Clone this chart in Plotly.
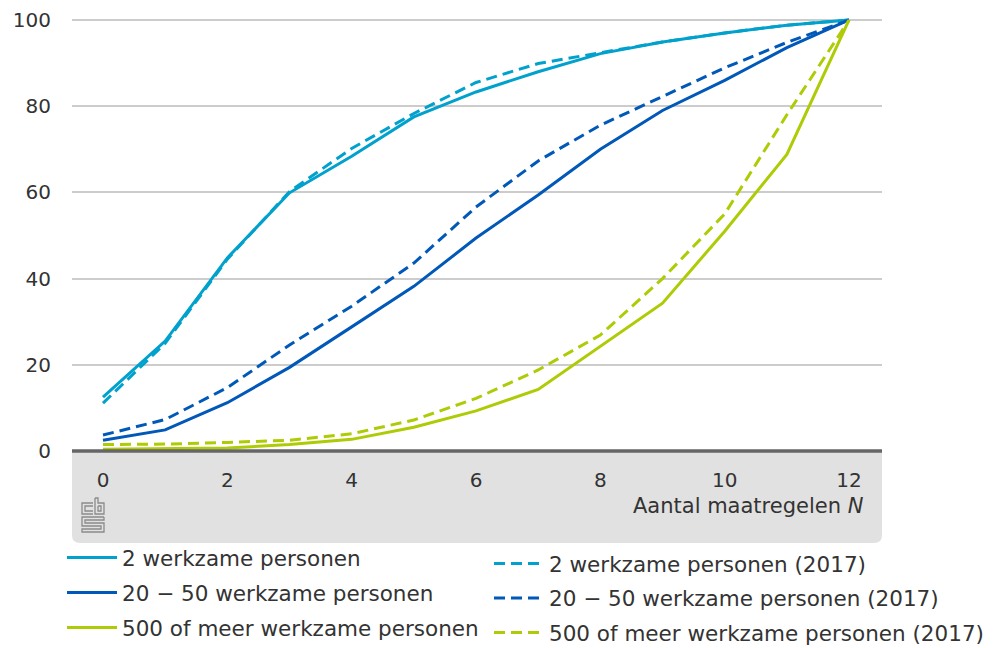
import plotly.graph_objects as go

N = list(range(13))

twee = [12.5, 25.5, 44.8, 59.9, 68.4, 77.5, 83.3, 88.0, 92.2, 94.9, 97.0, 98.8, 100]
twintig = [2.5, 4.9, 11.2, 19.4, 28.8, 38.2, 49.4, 59.4, 70.0, 79.0, 86.0, 93.6, 100]
vijfhonderd = [0.4, 0.5, 0.7, 1.5, 2.7, 5.5, 9.3, 14.3, 24.2, 34.3, 51.0, 68.8, 100]

twee_2017 = [11.1, 25.0, 44.5, 60.2, 70.2, 78.3, 85.5, 89.9, 92.4, 94.9, 97.0, 98.8, 100]
twintig_2017 = [3.7, 7.3, 14.7, 24.6, 33.6, 43.6, 56.6, 67.3, 75.6, 82.3, 88.9, 94.8, 100]
vijfhonderd_2017 = [1.5, 1.6, 2.0, 2.5, 4.0, 7.2, 12.2, 18.8, 26.9, 40.0, 55.0, 78.0, 100]

names = ["2 werkzame personen", "20 \u2212 50 werkzame personen", "500 of meer werkzame personen"]
names_2017 = [n + " (2017)" for n in names]
colors = ["#00a1cd", "#0058b8", "#afcb05"]

FONT = "DejaVu Sans"
TXT = "#333333"

fig = go.Figure()
for i, (vals, nm) in enumerate(zip([twee, twintig, vijfhonderd], names)):
    fig.add_trace(go.Scatter(x=N, y=vals, mode="lines", name=nm,
                             line=dict(color=colors[i], width=3),
                             legend="legend", legendgroup="a%d" % i))
for i, (vals, nm) in enumerate(zip([twee_2017, twintig_2017, vijfhonderd_2017], names_2017)):
    fig.add_trace(go.Scatter(x=N, y=vals, mode="lines", name=nm,
                             line=dict(color=colors[i], width=3, dash="11px,6px"),
                             legend="legend2", legendgroup="b%d" % i))

# page offset caused by the default body margin of the html page
OFF = 8
W, H = 994 - OFF, 648 - OFF
# plot area in page pixels
L, R, T, B = 72, 882, 18, 451

def px(x):
    return (x - L) / (R - L)
def py(y):
    return (B - y) / (B - T)

shapes = []
# grey band under the axis with rounded bottom corners
x0, x1, y0, y1 = px(72), px(882), py(543), py(451)
rx = 8 / (R - L)
ry = 8 / (B - T)
band = (f"M {x0},{y1} L {x1},{y1} L {x1},{y0+ry} Q {x1},{y0} {x1-rx},{y0} "
        f"L {x0+rx},{y0} Q {x0},{y0} {x0},{y0+ry} Z")
shapes.append(dict(type="path", xref="paper", yref="paper", path=band,
                   fillcolor="#e1e1e1", line=dict(width=0), layer="below"))
# zero axis line
shapes.append(dict(type="line", xref="paper", yref="paper", x0=0, x1=1, y0=0, y1=0,
                   line=dict(color="#666666", width=3.5)))

# CBS logo (simplified outline)
def P(pts):
    return "M " + " L ".join(f"{px(a)},{py(b)}" for a, b in pts)
logo_col = "#8a8a8a"
logo_paths = [
    [(93, 503), (82, 503), (82, 514), (93, 514)],
    [(93, 506), (85, 506), (85, 511), (93, 511)],
    [(95, 498), (95, 514), (104, 514), (104, 503), (98, 503), (98, 498), (95, 498)],
    [(98, 506), (101, 506), (101, 511), (98, 511), (98, 506)],
    [(104, 517), (82, 517), (82, 526), (101, 526), (101, 529), (82, 529), (82, 532), (104, 532),
     (104, 523), (85, 523), (85, 520), (104, 520), (104, 517)],
]
for p in logo_paths:
    shapes.append(dict(type="path", xref="paper", yref="paper", path=P(p),
                       line=dict(color=logo_col, width=1.3)))

def cx(x):  # page px -> container fraction
    return (x - OFF) / W
def cy(y):
    return 1 - (y - OFF) / H

fig.update_layout(
    width=W, height=H,
    margin=dict(l=L - OFF, r=W - (R - OFF), t=T - OFF, b=H - (B - OFF), pad=0, autoexpand=False),
    plot_bgcolor="white", paper_bgcolor="white",
    font=dict(family=FONT, size=20, color=TXT),
    xaxis=dict(range=[-0.4987, 12.53], tickvals=[0, 2, 4, 6, 8, 10, 12],
               showgrid=False, zeroline=False, showline=False, ticks="",
               ticklabelstandoff=15, tickfont=dict(size=20, color=TXT), fixedrange=True),
    yaxis=dict(range=[0, 100.46], tickvals=[0, 20, 40, 60, 80, 100],
               showgrid=True, gridcolor="#cccccc", gridwidth=2,
               zeroline=False, showline=False, ticks="", ticklabelstandoff=20,
               ticklabeloverflow="allow",
               tickfont=dict(size=20, color=TXT), fixedrange=True),
    shapes=shapes,
    annotations=[dict(xref="paper", yref="paper", x=px(866), y=py(506),
                      xanchor="right", yanchor="middle", showarrow=False,
                      text="Aantal maatregelen <i>N</i>",
                      font=dict(size=21, color=TXT, family=FONT))],
    legend=dict(xref="container", yref="container", x=cx(62), y=cy(537),
                xanchor="left", yanchor="top",
                orientation="v", itemwidth=50, tracegroupgap=4,
                font=dict(size=21.5, color=TXT, family=FONT), bgcolor="rgba(0,0,0,0)"),
    legend2=dict(xref="container", yref="container", x=cx(489), y=cy(543),
                 xanchor="left", yanchor="top",
                 orientation="v", itemwidth=50, tracegroupgap=3.5,
                 font=dict(size=21.5, color=TXT, family=FONT), bgcolor="rgba(0,0,0,0)"),
    showlegend=True,
)

fig.write_html("out.html")
